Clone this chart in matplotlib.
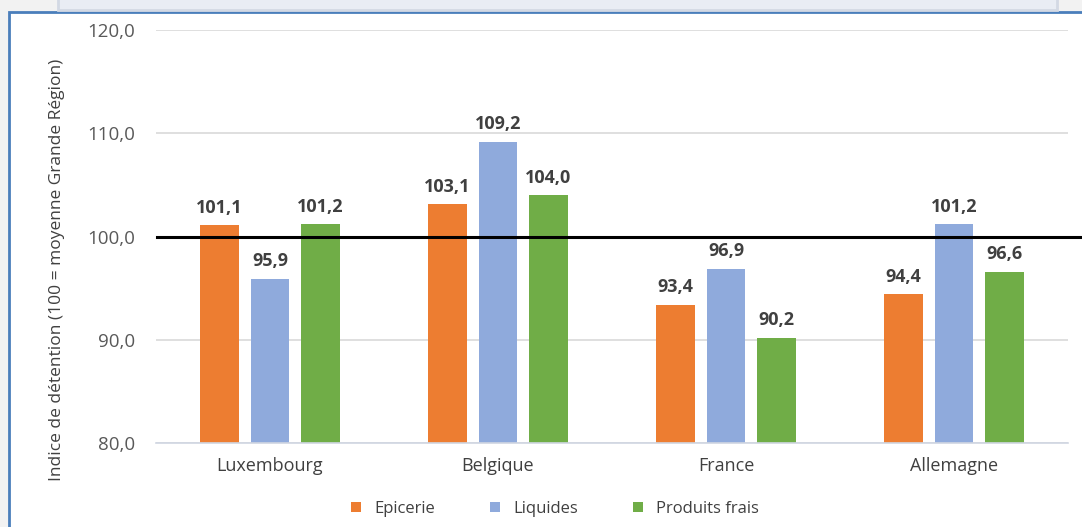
import numpy as np
import matplotlib.pyplot as plt
from matplotlib import transforms
from matplotlib.patches import Rectangle
from matplotlib.lines import Line2D

plt.rcParams['font.family'] = ['Open Sans', 'DejaVu Sans']

## Data ------------------------------------------------------------------------
pays = ['Luxembourg', 'Belgique', 'France', 'Allemagne']
epicerie = [101.1, 103.1, 93.4, 94.4]
liquides = [95.9, 109.2, 96.9, 101.2]
produits_frais = [101.2, 104.0, 90.2, 96.6]
yticks = [80, 90, 100, 110, 120]

series = [('Epicerie', epicerie, '#ED7D31'),
          ('Liquides', liquides, '#8FAADC'),
          ('Produits frais', produits_frais, '#70AD47')]

def fr(v):
    return '{:.1f}'.format(v).replace('.', ',')

## Figure ----------------------------------------------------------------------
fig = plt.figure(figsize=(10.82, 5.27), dpi=100, facecolor='#f2f2f2')

# white chart area with blue frame, and the strip above it
fig.patches.append(Rectangle((9/1082, -0.05), 1.1, 1 - 12/527 + 0.05,
                             transform=fig.transFigure, facecolor='white',
                             edgecolor='#4a7ebb', linewidth=2, zorder=-2))
fig.patches.append(Rectangle((58/1082, 1 - 10/527), 999/1082, 0.05,
                             transform=fig.transFigure, facecolor='#e9edf4',
                             edgecolor='#d3d9e4', linewidth=2, zorder=-2))

ax = fig.add_axes([156/1082, 1 - 443/527, 912/1082, 413/527])
ax.set_facecolor('none')
ax.set_zorder(1)

x = np.arange(len(pays))
w = 0.171
step = 0.221
for i, (nom, vals, col) in enumerate(series):
    pos = x + (i - 1)*step
    ax.bar(pos, np.array(vals) - 80, w, bottom=80, color=col, label=nom, zorder=2)
    for p, v in zip(pos, vals):
        ax.annotate(fr(v), (p, v), xytext=(0, 6), textcoords='offset points',
                    ha='center', va='bottom', fontsize=13, fontweight='bold',
                    color='#404040')

ax.set_xlim(-0.5, len(pays) - 0.5)
ax.set_ylim(80, 120)
ax.set_yticks(yticks)
ax.set_yticklabels([fr(t) for t in yticks], fontsize=13.5, color='#595959')
ax.set_xticks(x)
ax.set_xticklabels(pays, fontsize=13, color='#404040')
ax.tick_params(length=0, pad=15, axis='y')
ax.tick_params(length=0, pad=10, axis='x')
ax.grid(axis='y', color='#d9d9d9', linewidth=1.2, zorder=0)
ax.set_axisbelow(True)
for s in ['top', 'right', 'left']:
    ax.spines[s].set_visible(False)
ax.spines['bottom'].set_color('#d0d6e2')
ax.spines['bottom'].set_linewidth(1.2)

ax.set_ylabel('Indice de détention (100 = moyenne Grande Région)',
              fontsize=12.5, color='#404040')
ax.yaxis.set_label_coords(-0.1, 0.42)

# reference line at 100 running out to the right edge
trans = transforms.blended_transform_factory(fig.transFigure, ax.transData)
fig.lines.append(Line2D([157/1082, 1.0], [100, 100], transform=trans,
                        color='black', linewidth=2.2, zorder=5))

fig.legend(loc='center', bbox_to_anchor=(555/1082, 1 - 509/527), ncol=3,
           frameon=False, fontsize=12, handlelength=0.6, handleheight=0.6,
           columnspacing=3.3, handletextpad=0.8, labelcolor='#404040')

fig.savefig('out.png', dpi=100, facecolor=fig.get_facecolor())
